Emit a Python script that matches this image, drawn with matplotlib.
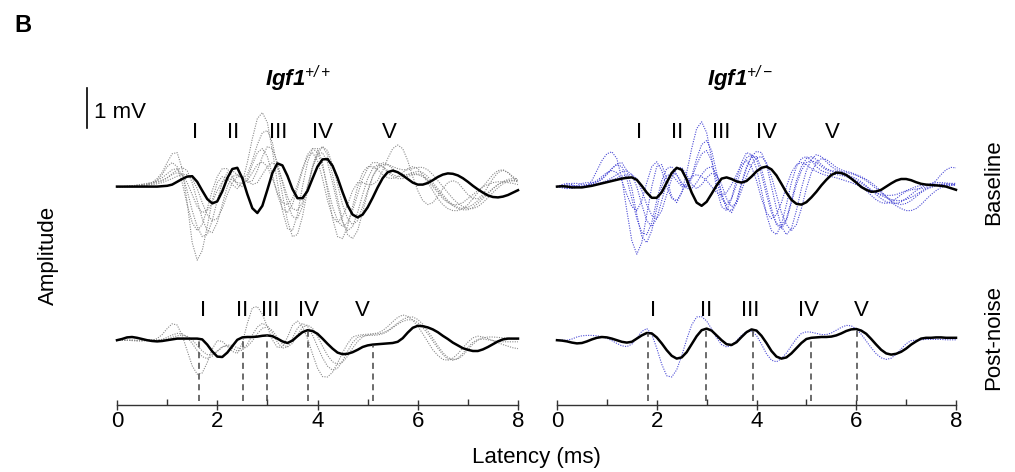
import numpy as np
import matplotlib
matplotlib.use("Agg")
import matplotlib.pyplot as plt

plt.rcParams['font.family'] = ['Liberation Sans', 'DejaVu Sans']
plt.rcParams['mathtext.fontset'] = 'custom'
plt.rcParams['mathtext.rm'] = 'Liberation Sans:italic'
plt.rcParams['mathtext.it'] = 'Liberation Sans:italic'
plt.rcParams['mathtext.bf'] = 'Liberation Sans:italic:bold'

# latency axis (ms), one sample every 0.1 ms
latency = np.linspace(0, 8, 81)

# ---- Igf1+/+ baseline: representative (black) and individual (gray) traces, mV ----
wt_base_mean = [0, 0, 0, 0, 0, 0, 0, 0, 0, 0.01,
                0.02, 0.05, 0.12, 0.19, 0.25, 0.26, 0.12, -0.10, -0.31, -0.42,
                -0.37, -0.12, 0.21, 0.44, 0.47, 0.21, -0.19, -0.54, -0.66, -0.48,
                -0.08, 0.34, 0.58, 0.53, 0.27, -0.06, -0.29, -0.29, -0.11, 0.20,
                0.50, 0.68, 0.69, 0.52, 0.22, -0.14, -0.47, -0.70, -0.77, -0.70,
                -0.52, -0.28, -0.02, 0.21, 0.36, 0.40, 0.36, 0.28, 0.19, 0.10,
                0.05, 0.05, 0.09, 0.16, 0.24, 0.30, 0.33, 0.32, 0.28, 0.21,
                0.12, 0.02, -0.07, -0.15, -0.22, -0.26, -0.27, -0.25, -0.21, -0.15,
                -0.09]
wt_base_1 = [0, 0, 0, 0, 0, 0.02, 0.05, 0.10, 0.20, 0.35,
             0.60, 0.82, 0.85, 0.45, -0.40, -1.40, -1.84, -1.60, -1.00, -0.35,
             0.10, 0.25, 0.20, 0.05, -0.05, 0.10, 0.60, 1.20, 1.70, 1.85,
             1.60, 0.90, 0.10, -0.60, -1.05, -1.10, -0.70, 0.00, 0.60, 0.95,
             0.95, 0.60, -0.10, -0.80, -1.25, -1.30, -1.00, -0.50, 0.00, 0.35,
             0.50, 0.50, 0.42, 0.30, 0.22, 0.20, 0.25, 0.35, 0.45, 0.50,
             0.45, 0.30, 0.10, -0.10, -0.30, -0.45, -0.55, -0.60, -0.60, -0.55,
             -0.45, -0.30, -0.15, 0.00, 0.15, 0.30, 0.40, 0.42, 0.35, 0.25,
             0.15]
wt_base_2 = [0, 0, 0.01, 0.02, 0.04, 0.06, 0.08, 0.10, 0.12, 0.15,
             0.22, 0.32, 0.42, 0.48, 0.40, 0.10, -0.35, -0.80, -1.10, -1.15,
             -0.90, -0.45, 0.00, 0.25, 0.30, 0.20, 0.10, 0.15, 0.40, 0.75,
             1.00, 0.95, 0.60, 0.10, -0.40, -0.75, -0.80, -0.50, 0.00, 0.50,
             0.80, 0.85, 0.60, 0.10, -0.45, -0.90, -1.10, -1.00, -0.65, -0.20,
             0.20, 0.45, 0.55, 0.50, 0.40, 0.30, 0.25, 0.25, 0.30, 0.35,
             0.38, 0.35, 0.25, 0.10, -0.05, -0.20, -0.35, -0.45, -0.52, -0.55,
             -0.52, -0.45, -0.35, -0.25, -0.15, -0.05, 0.05, 0.12, 0.18, 0.20,
             0.20]
wt_base_3 = [0, 0, 0, 0, 0.01, 0.02, 0.03, 0.08, 0.15, 0.30,
             0.50, 0.60, 0.50, 0.10, -0.45, -0.90, -1.10, -0.95, -0.55, -0.10,
             0.25, 0.45, 0.45, 0.25, 0.05, 0.00, 0.20, 0.55, 0.85, 0.95,
             0.75, 0.30, -0.20, -0.55, -0.65, -0.45, -0.05, 0.40, 0.75, 0.85,
             0.65, 0.20, -0.35, -0.75, -0.90, -0.75, -0.45, -0.10, 0.10, 0.10,
             0.05, 0.05, 0.15, 0.40, 0.70, 0.95, 1.04, 0.95, 0.65, 0.25,
             -0.10, -0.35, -0.45, -0.40, -0.25, -0.05, 0.10, 0.15, 0.10, -0.05,
             -0.20, -0.30, -0.30, -0.20, 0.00, 0.20, 0.35, 0.41, 0.35, 0.22,
             0.10]
wt_base_4 = [0, 0, 0, 0.01, 0.02, 0.03, 0.04, 0.05, 0.07, 0.10,
             0.15, 0.20, 0.26, 0.30, 0.30, 0.20, -0.05, -0.40, -0.70, -0.85,
             -0.80, -0.55, -0.20, 0.10, 0.25, 0.25, 0.15, 0.05, 0.10, 0.30,
             0.50, 0.60, 0.50, 0.15, -0.25, -0.55, -0.60, -0.40, 0.00, 0.45,
             0.80, 1.00, 0.90, 0.55, 0.05, -0.45, -0.80, -0.95, -0.85, -0.50,
             -0.10, 0.25, 0.45, 0.55, 0.55, 0.50, 0.45, 0.42, 0.42, 0.45,
             0.48, 0.48, 0.42, 0.30, 0.15, 0.00, -0.15, -0.30, -0.42, -0.50,
             -0.55, -0.55, -0.50, -0.40, -0.28, -0.15, -0.03, 0.07, 0.13, 0.15,
             0.15]
wt_base_5 = [0, 0, 0, 0.01, 0.03, 0.05, 0.06, 0.08, 0.10, 0.15,
             0.22, 0.30, 0.35, 0.30, 0.10, -0.20, -0.50, -0.65, -0.60, -0.40,
             -0.10, 0.12, 0.20, 0.18, 0.10, 0.08, 0.15, 0.35, 0.55, 0.62,
             0.50, 0.20, -0.15, -0.40, -0.45, -0.30, 0.05, 0.45, 0.80, 0.95,
             0.85, 0.50, 0.00, -0.50, -0.85, -1.00, -0.90, -0.60, -0.20, 0.20,
             0.45, 0.60, 0.60, 0.50, 0.35, 0.25, 0.20, 0.20, 0.25, 0.30,
             0.30, 0.25, 0.15, 0.00, -0.15, -0.30, -0.40, -0.45, -0.45, -0.40,
             -0.30, -0.20, -0.10, 0.00, 0.05, 0.10, 0.12, 0.12, 0.10, 0.08,
             0.05]
wt_base_6 = [0, 0, 0.01, 0.02, 0.03, 0.05, 0.07, 0.10, 0.15, 0.22,
             0.32, 0.42, 0.45, 0.30, -0.10, -0.60, -1.00, -1.25, -1.20, -0.85,
             -0.35, 0.10, 0.35, 0.40, 0.30, 0.20, 0.30, 0.65, 1.05, 1.35,
             1.40, 1.10, 0.50, -0.20, -0.85, -1.25, -1.20, -0.75, -0.10, 0.50,
             0.90, 1.00, 0.80, 0.30, -0.30, -0.85, -1.20, -1.30, -1.10, -0.65,
             -0.15, 0.25, 0.50, 0.60, 0.55, 0.45, 0.35, 0.30, 0.30, 0.32,
             0.32, 0.28, 0.18, 0.05, -0.10, -0.25, -0.38, -0.48, -0.55, -0.58,
             -0.58, -0.52, -0.42, -0.30, -0.18, -0.05, 0.05, 0.12, 0.15, 0.15,
             0.12]

# ---- Igf1+/- baseline: representative (black) and individual (blue) traces, mV ----
het_base_mean = [0, 0.01, 0, -0.02, -0.02, -0.02, 0, 0.02, 0.05, 0.08,
                 0.11, 0.14, 0.17, 0.20, 0.22, 0.23, 0.17, 0.02, -0.15, -0.28,
                 -0.28, -0.14, 0.10, 0.34, 0.47, 0.42, 0.18, -0.15, -0.40, -0.48,
                 -0.38, -0.18, 0.03, 0.20, 0.23, 0.19, 0.13, 0.10, 0.14, 0.25,
                 0.38, 0.47, 0.50, 0.43, 0.28, 0.07, -0.15, -0.33, -0.43, -0.45,
                 -0.39, -0.27, -0.13, 0.03, 0.17, 0.29, 0.35, 0.34, 0.29, 0.20,
                 0.10, -0.01, -0.08, -0.13, -0.12, -0.08, 0.00, 0.08, 0.15, 0.19,
                 0.19, 0.16, 0.11, 0.07, 0.05, 0.04, 0.03, 0.02, 0.00, -0.04,
                 -0.08]
het_base_1 = [0, 0.05, 0.08, 0.05, 0.00, -0.03, 0.00, 0.15, 0.40, 0.65,
              0.82, 0.87, 0.70, 0.20, -0.60, -1.35, -1.69, -1.40, -0.70, 0.00,
              0.50, 0.55, 0.20, -0.25, -0.40, -0.15, 0.35, 0.95, 1.45, 1.62,
              1.35, 0.70, -0.05, -0.50, -0.60, -0.30, 0.20, 0.60, 0.85, 0.80,
              0.45, -0.10, -0.70, -1.10, -1.20, -0.95, -0.45, 0.10, 0.50, 0.70,
              0.75, 0.65, 0.50, 0.40, 0.35, 0.32, 0.30, 0.28, 0.25, 0.20,
              0.12, 0.02, -0.10, -0.22, -0.33, -0.40, -0.42, -0.38, -0.30, -0.20,
              -0.12, -0.08, -0.06, -0.05, -0.02, 0.05, 0.15, 0.30, 0.42, 0.48,
              0.47]
het_base_2 = [0, -0.03, -0.05, -0.03, 0.02, 0.08, 0.10, 0.10, 0.12, 0.20,
              0.32, 0.45, 0.55, 0.50, 0.20, -0.30, -0.80, -1.15, -1.20, -0.90,
              -0.35, 0.15, 0.45, 0.50, 0.30, 0.05, 0.00, 0.25, 0.70, 1.05,
              1.15, 0.90, 0.35, -0.20, -0.55, -0.60, -0.35, 0.10, 0.50, 0.75,
              0.75, 0.45, -0.05, -0.55, -0.95, -1.05, -0.85, -0.40, 0.05, 0.40,
              0.60, 0.65, 0.60, 0.50, 0.42, 0.38, 0.35, 0.32, 0.28, 0.22,
              0.15, 0.08, 0.00, -0.08, -0.15, -0.22, -0.28, -0.32, -0.35, -0.35,
              -0.32, -0.27, -0.20, -0.12, -0.05, 0.00, 0.04, 0.06, 0.07, 0.06,
              0.05]
het_base_3 = [0, 0.02, 0.03, 0.02, 0.00, -0.02, 0.00, 0.03, 0.06, 0.10,
              0.15, 0.22, 0.30, 0.37, 0.40, 0.30, 0.00, -0.45, -0.85, -1.00,
              -0.80, -0.35, 0.10, 0.35, 0.30, 0.10, -0.05, -0.05, 0.10, 0.30,
              0.45, 0.50, 0.30, -0.15, -0.55, -0.65, -0.40, 0.05, 0.45, 0.75,
              0.88, 0.85, 0.55, 0.00, -0.55, -1.00, -1.20, -1.05, -0.60, -0.05,
              0.40, 0.68, 0.80, 0.75, 0.62, 0.50, 0.42, 0.38, 0.35, 0.32,
              0.28, 0.22, 0.15, 0.05, -0.05, -0.15, -0.25, -0.35, -0.42, -0.45,
              -0.42, -0.35, -0.25, -0.15, -0.07, -0.02, 0.02, 0.05, 0.06, 0.06,
              0.05]
het_base_4 = [0, 0.03, 0.06, 0.08, 0.08, 0.06, 0.05, 0.08, 0.15, 0.25,
              0.35, 0.40, 0.35, 0.15, -0.20, -0.50, -0.60, -0.35, 0.10, 0.50,
              0.62, 0.40, 0.00, -0.30, -0.35, -0.15, 0.10, 0.25, 0.30, 0.25,
              0.15, 0.00, -0.15, -0.22, -0.15, 0.05, 0.30, 0.55, 0.65, 0.50,
              0.15, -0.30, -0.65, -0.80, -0.70, -0.40, 0.00, 0.35, 0.55, 0.60,
              0.55, 0.45, 0.38, 0.32, 0.28, 0.25, 0.22, 0.18, 0.14, 0.10,
              0.05, 0.00, -0.05, -0.10, -0.15, -0.20, -0.22, -0.22, -0.20, -0.15,
              -0.10, -0.05, 0.00, 0.03, 0.05, 0.06, 0.06, 0.05, 0.04, 0.03,
              0.03]
het_base_5 = [0, -0.02, -0.04, -0.04, -0.02, 0.00, 0.03, 0.06, 0.10, 0.18,
              0.30, 0.45, 0.57, 0.60, 0.40, -0.05, -0.70, -1.25, -1.40, -1.10,
              -0.55, 0.00, 0.28, 0.30, 0.15, 0.00, 0.00, 0.20, 0.55, 0.82,
              0.90, 0.65, 0.15, -0.30, -0.45, -0.30, 0.05, 0.45, 0.72, 0.80,
              0.68, 0.30, -0.20, -0.65, -0.92, -1.00, -0.80, -0.35, 0.15, 0.50,
              0.70, 0.75, 0.68, 0.55, 0.45, 0.40, 0.38, 0.35, 0.30, 0.25,
              0.20, 0.12, 0.02, -0.10, -0.20, -0.30, -0.38, -0.42, -0.42, -0.38,
              -0.30, -0.20, -0.10, -0.02, 0.04, 0.08, 0.10, 0.10, 0.09, 0.08,
              0.08]
het_base_6 = [0, 0, 0.01, 0.02, 0.02, 0.02, 0.03, 0.05, 0.07, 0.10,
              0.13, 0.17, 0.21, 0.26, 0.29, 0.30, 0.20, -0.10, -0.45, -0.72,
              -0.80, -0.60, -0.20, 0.20, 0.45, 0.48, 0.30, 0.05, -0.05, 0.05,
              0.22, 0.33, 0.30, 0.05, -0.30, -0.50, -0.42, -0.10, 0.25, 0.55,
              0.72, 0.75, 0.60, 0.25, -0.20, -0.65, -0.95, -1.10, -0.95, -0.55,
              -0.05, 0.35, 0.60, 0.70, 0.68, 0.58, 0.48, 0.42, 0.38, 0.35,
              0.30, 0.25, 0.18, 0.10, 0.00, -0.12, -0.25, -0.38, -0.48, -0.55,
              -0.60, -0.60, -0.55, -0.45, -0.32, -0.20, -0.10, -0.02, 0.02, 0.04,
              0.05]

# ---- Igf1+/+ post-noise ----
wt_post_mean = [0, 0.03, 0.07, 0.08, 0.06, 0.03, 0, -0.02, -0.03, -0.02,
                0, 0.02, 0.04, 0.04, 0.04, 0.04, 0.04, 0.02, -0.11, -0.28,
                -0.41, -0.42, -0.31, -0.15, 0.01, 0.07, 0.08, 0.08, 0.09, 0.11,
                0.12, 0.10, 0.04, -0.03, -0.07, -0.01, 0.10, 0.20, 0.25, 0.23,
                0.16, 0.04, -0.09, -0.21, -0.31, -0.35, -0.34, -0.30, -0.24, -0.17,
                -0.13, -0.11, -0.10, -0.09, -0.08, -0.07, -0.04, 0.05, 0.19, 0.31,
                0.36, 0.35, 0.32, 0.27, 0.20, 0.11, 0.03, -0.06, -0.13, -0.20,
                -0.24, -0.27, -0.27, -0.23, -0.17, -0.10, -0.03, 0.02, 0.04, 0.04,
                0.04]
wt_post_1 = [0, 0, 0, -0.01, -0.02, -0.02, -0.01, 0, 0.04, 0.14,
             0.29, 0.41, 0.38, 0.12, -0.26, -0.64, -0.85, -0.82, -0.56, -0.22,
             -0.01, -0.03, -0.15, -0.28, -0.33, -0.07, 0.42, 0.81, 0.84, 0.65,
             0.33, 0.01, -0.18, -0.17, 0.07, 0.37, 0.48, 0.35, 0.04, -0.34,
             -0.70, -0.91, -0.92, -0.80, -0.57, -0.31, -0.09, 0.08, 0.12, 0.14,
             0.15, 0.16, 0.18, 0.24, 0.34, 0.46, 0.57, 0.63, 0.60, 0.50,
             0.35, 0.16, -0.04, -0.24, -0.38, -0.48, -0.50, -0.45, -0.34, -0.19,
             -0.05, 0.06, 0.10, 0.08, 0.04, -0.01, -0.06, -0.11, -0.15, -0.19,
             -0.21]
wt_post_2 = [0, 0, 0, 0, -0.01, -0.01, 0, 0, 0.01, 0.02,
             0.07, 0.13, 0.17, 0.16, 0.07, -0.08, -0.26, -0.41, -0.46, -0.40,
             -0.27, -0.16, -0.14, -0.20, -0.27, -0.25, -0.10, 0.13, 0.33, 0.42,
             0.36, 0.18, -0.05, -0.20, -0.17, 0.05, 0.30, 0.42, 0.35, 0.13,
             -0.16, -0.44, -0.65, -0.75, -0.70, -0.52, -0.28, -0.06, 0.07, 0.11,
             0.12, 0.12, 0.13, 0.16, 0.22, 0.31, 0.40, 0.47, 0.51, 0.51,
             0.44, 0.32, 0.16, -0.02, -0.20, -0.36, -0.47, -0.50, -0.45, -0.33,
             -0.18, -0.05, 0.02, 0.03, 0.01, -0.01, -0.03, -0.04, -0.04, -0.04,
             -0.04]
wt_post_3 = [0, 0, 0, 0, 0, 0, 0, 0, 0, 0.01,
             0.03, 0.07, 0.11, 0.13, 0.10, 0.01, -0.13, -0.27, -0.36, -0.36,
             -0.28, -0.18, -0.12, -0.13, -0.19, -0.22, -0.16, -0.02, 0.16, 0.30,
             0.33, 0.24, 0.07, -0.10, -0.17, -0.08, 0.13, 0.32, 0.38, 0.30,
             0.10, -0.15, -0.38, -0.54, -0.60, -0.55, -0.40, -0.20, -0.03, 0.08,
             0.13, 0.15, 0.16, 0.18, 0.24, 0.33, 0.43, 0.52, 0.57, 0.58,
             0.52, 0.40, 0.23, 0.05, -0.14, -0.31, -0.43, -0.49, -0.47, -0.38,
             -0.24, -0.10, 0.00, 0.06, 0.08, 0.08, 0.07, 0.06, 0.05, 0.04,
             0.03]

# ---- Igf1+/- post-noise ----
het_post_mean = [0, -0.01, -0.03, -0.06, -0.08, -0.07, -0.03, 0.02, 0.06, 0.08,
                 0.07, 0.04, 0, -0.04, -0.06, -0.04, 0.04, 0.12, 0.18, 0.17,
                 0.07, -0.08, -0.25, -0.39, -0.46, -0.43, -0.30, -0.10, 0.10, 0.25,
                 0.29, 0.24, 0.12, 0, -0.10, -0.12, -0.05, 0.08, 0.20, 0.27,
                 0.24, 0.11, -0.07, -0.27, -0.41, -0.46, -0.43, -0.33, -0.20, -0.07,
                 0.03, 0.06, 0.07, 0.08, 0.08, 0.09, 0.12, 0.17, 0.23, 0.27,
                 0.28, 0.24, 0.16, 0.03, -0.11, -0.24, -0.33, -0.36, -0.34, -0.29,
                 -0.21, -0.11, -0.03, 0.04, 0.06, 0.06, 0.07, 0.07, 0.06, 0.06,
                 0.06]
het_post_1 = [0, 0, 0, 0.03, 0.08, 0.11, 0.12, 0.12, 0.11, 0.09,
              0.05, -0.01, -0.08, -0.14, -0.16, -0.10, 0.05, 0.22, 0.29, 0.15,
              -0.20, -0.60, -0.89, -0.92, -0.74, -0.39, 0.02, 0.38, 0.58, 0.59,
              0.48, 0.28, 0.06, -0.11, -0.17, -0.13, -0.01, 0.12, 0.22, 0.23,
              0.12, -0.10, -0.34, -0.50, -0.54, -0.46, -0.32, -0.14, 0.04, 0.17,
              0.21, 0.20, 0.17, 0.14, 0.14, 0.18, 0.25, 0.32, 0.37, 0.36,
              0.28, 0.15, -0.02, -0.19, -0.34, -0.44, -0.48, -0.45, -0.35, -0.22,
              -0.09, -0.01, 0.00, 0.01, 0.02, 0.02, 0.02, 0.02, 0.01, 0.01,
              0.01]

# wave labels (latency ms) and marked post-noise peaks
waves = ['I', 'II', 'III', 'IV', 'V']
wt_base_wave_lat = [1.56, 2.32, 3.22, 4.10, 5.43]
het_base_wave_lat = [1.64, 2.40, 3.30, 4.20, 5.52]
wt_post_wave_lat = [1.72, 2.50, 3.05, 3.83, 4.90]
het_post_wave_lat = [1.92, 3.00, 3.88, 5.04, 6.10]
wt_post_peaks = [1.64, 2.51, 3.00, 3.82, 5.10]
het_post_peaks = [1.83, 2.99, 3.92, 5.10, 6.02]

W, H = 1015, 472
MV = 40.0            # pixels per mV
BASE_OFF = 5.46      # baseline traces offset above latency axis (mV)
POST_OFF = 1.62      # post-noise traces offset (mV)
FS = 16


def fx(x):
    return x / W


def fy(y):
    return 1 - y / H


fig = plt.figure(figsize=(W / 100, H / 100), dpi=100)
axL = fig.add_axes([fx(117), fy(405), 401 / W, 325 / H])
axR = fig.add_axes([fx(557), fy(405), 399 / W, 325 / H])

panels = [
    (axL, '#8a8a8a', wt_base_mean, [wt_base_1, wt_base_2, wt_base_3, wt_base_4, wt_base_5, wt_base_6],
     wt_post_mean, [wt_post_1, wt_post_2, wt_post_3], wt_base_wave_lat, wt_post_wave_lat, wt_post_peaks),
    (axR, '#4b4bd6', het_base_mean, [het_base_1, het_base_2, het_base_3, het_base_4, het_base_5, het_base_6],
     het_post_mean, [het_post_1], het_base_wave_lat, het_post_wave_lat, het_post_peaks),
]

for ax, col, bmean, btraces, pmean, ptraces, blat, plat, peaks in panels:
    for tr in btraces:
        ax.plot(latency, np.array(tr) + BASE_OFF, color=col, lw=0.8, ls=(0, (1, 1.2)),
                solid_joinstyle='round', clip_on=False)
    ax.plot(latency, np.array(bmean) + BASE_OFF, color='black', lw=1.8,
            solid_joinstyle='round', clip_on=False)
    for tr in ptraces:
        ax.plot(latency, np.array(tr) + POST_OFF, color=col, lw=0.8, ls=(0, (1, 1.2)),
                solid_joinstyle='round', clip_on=False)
    ax.plot(latency, np.array(pmean) + POST_OFF, color='black', lw=1.8,
            solid_joinstyle='round', clip_on=False)

    # dashed markers from the post-noise peaks down to the axis
    tops = np.interp(peaks, latency, pmean) + POST_OFF
    ax.vlines(peaks, 0.1, tops, colors='#444444', lw=1.1, linestyles=(0, (4, 3)))

    for lab, t in zip(waves, blat):
        ax.text(t, (405 - 132) / MV, lab, ha='center', va='center', fontsize=FS)
    for lab, t in zip(waves, plat):
        ax.text(t, (405 - 311) / MV, lab, ha='center', va='center', fontsize=FS)

    ax.set_xlim(0, 8)
    ax.set_ylim(0, 325 / MV)
    for s in ['top', 'right', 'left']:
        ax.spines[s].set_visible(False)
    ax.spines['bottom'].set_linewidth(1.0)
    ax.spines['bottom'].set_color('#333333')
    ax.set_yticks([])
    ax.set_xticks([0, 2, 4, 6, 8])
    ax.set_xticks([1, 3, 5, 7], minor=True)
    ax.tick_params(axis='x', which='major', direction='inout', length=7, width=1,
                   color='#333333', labelsize=FS, pad=1)
    ax.tick_params(axis='x', which='minor', direction='in', length=4, width=1, color='#333333')
    ax.patch.set_alpha(0)

# texts
fig.text(fx(14), fy(31.5), 'B', fontsize=17, fontweight='bold', ha='left', va='baseline')
fig.text(fx(298), fy(86), r'$\mathbf{Igf1}^{+/+}$', fontsize=16, ha='center', va='baseline')
fig.text(fx(740), fy(86), r'$\mathbf{Igf1}^{+/-}$', fontsize=16, ha='center', va='baseline')

fig.add_artist(plt.Line2D([fx(87), fx(87)], [fy(88), fy(128)], color='black', lw=1.2))
fig.text(fx(94), fy(118), '1 mV', fontsize=FS, ha='left', va='baseline')

fig.text(fx(48), fy(255), 'Amplitude', rotation=90, fontsize=FS, ha='center', va='center')
fig.text(fx(994), fy(182), 'Baseline', rotation=90, fontsize=FS, ha='center', va='center')
fig.text(fx(994), fy(338), 'Post-noise', rotation=90, fontsize=FS, ha='center', va='center')
fig.text(fx(536), fy(457), 'Latency (ms)', fontsize=FS, ha='center', va='center')

fig.savefig('out.png', dpi=100, facecolor='white')
